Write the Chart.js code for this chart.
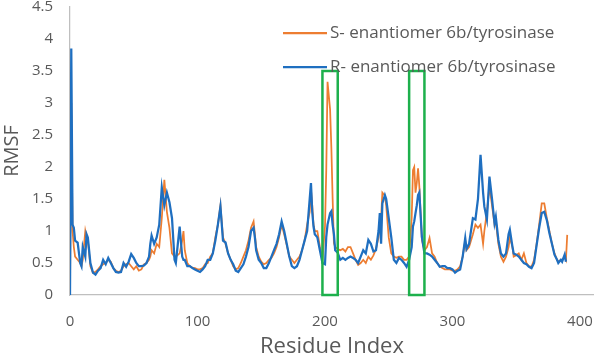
<!DOCTYPE html>
<html>
<head>
<meta charset="utf-8">
<script src="https://cdn.jsdelivr.net/npm/chart.js@4.4.1/dist/chart.umd.min.js"></script>
<style>
  html, body { margin: 0; padding: 0; background: #ffffff; }
  #wrap { width: 594px; height: 360px; position: relative; }
</style>
</head>
<body>
<div id="wrap"><canvas id="c" width="594" height="360"></canvas></div>
<script>
const seriesNames = ["S- enantiomer 6b/tyrosinase", "R- enantiomer 6b/tyrosinase"];
const xTicks = [0, 100, 200, 300, 400];
const yTicks = [0, 0.5, 1, 1.5, 2, 2.5, 3, 3.5, 4, 4.5];
const highlightRanges = [[198, 210], [266, 278]];
const highlightTop = 3.5;

const residues = [
  0,1,2,3,4,6,8,9,10,12,
  13,14,16,18,20,22,24,26,28,30,
  32,34,36,38,40,42,44,46,48,50,
  52,54,56,58,60,62,63,64,66,68,
  70,72,74,76,78,80,82,83,86,88,
  89,90,92,94,96,98,100,102,104,106,
  108,110,112,114,116,118,120,122,124,126,
  128,130,132,134,136,138,140,142,144,145,
  146,148,150,152,154,156,158,160,162,164,
  166,168,170,172,174,176,178,180,182,184,
  186,188,189,190,191,192,194,196,198,200,
  201,202,204,205,206,207,208,210,212,214,
  216,218,220,222,224,226,228,230,232,234,
  236,238,240,242,243,244,245,247,248,250,
  252,254,256,258,260,262,264,266,268,269,
  270,271,272,273,274,276,278,280,282,284,
  286,288,290,292,294,296,298,300,302,304,
  306,308,310,311,313,316,318,320,322,324,
  325,327,329,331,333,334,336,338,340,342,
  344,345,347,348,350,352,354,356,358,360,
  362,364,366,368,370,372,374,376,378,380,
  382,383,385,386,388,389,390
];

const rValues = [
  0,3.85,1.1,1.05,0.85,0.82,0.5,0.45,0.75,0.6,
  0.95,0.9,0.5,0.35,0.32,0.38,0.42,0.55,0.48,0.58,
  0.5,0.42,0.36,0.35,0.36,0.5,0.44,0.52,0.64,0.58,
  0.5,0.45,0.45,0.46,0.5,0.6,0.8,0.93,0.8,0.9,
  1.1,1.68,1.4,1.6,1.45,1.2,0.55,0.5,1.07,0.6,
  0.55,0.55,0.45,0.45,0.42,0.4,0.38,0.36,0.4,0.45,
  0.55,0.55,0.65,0.85,1.1,1.38,0.85,0.82,0.65,0.55,
  0.48,0.38,0.36,0.42,0.48,0.6,0.75,1.0,1.05,0.9,
  0.7,0.55,0.5,0.42,0.42,0.5,0.6,0.7,0.8,0.95,
  1.15,1.0,0.8,0.6,0.45,0.42,0.45,0.55,0.7,0.85,
  1.0,1.5,1.75,1.3,1.07,0.95,0.9,0.7,0.5,0.48,
  0.91,1.1,1.28,1.31,1.1,0.95,0.7,0.66,0.55,0.58,
  0.55,0.58,0.6,0.58,0.55,0.5,0.6,0.7,0.65,0.86,
  0.8,0.68,0.7,1.0,1.28,0.8,1.43,1.56,1.5,1.2,
  0.9,0.55,0.5,0.58,0.55,0.5,0.44,0.55,0.75,1.07,
  1.15,1.28,1.4,1.56,1.6,0.91,0.65,0.65,0.63,0.6,
  0.55,0.5,0.44,0.45,0.45,0.42,0.42,0.4,0.35,0.38,
  0.4,0.6,0.89,0.72,0.8,1.2,1.18,1.5,2.19,1.6,
  1.38,1.18,1.85,1.5,1.12,1.22,0.86,0.65,0.6,0.65,
  0.95,1.02,0.76,0.65,0.63,0.6,0.55,0.5,0.48,0.44,
  0.42,0.5,0.78,1.05,1.28,1.3,1.17,0.97,0.8,0.63,
  0.55,0.5,0.55,0.52,0.63,0.52,null
];

const sValues = [
  0,3.0,1.0,0.75,0.6,0.55,0.5,0.45,0.55,1.0,
  0.9,0.85,0.45,0.35,0.36,0.4,0.45,0.48,0.5,0.55,
  0.52,0.42,0.38,0.36,0.38,0.45,0.48,0.5,0.45,0.4,
  0.45,0.38,0.4,0.48,0.5,0.55,0.6,0.7,0.65,0.8,
  0.75,1.2,1.8,1.3,1.05,0.65,0.6,0.6,0.65,0.85,
  1.0,0.7,0.5,0.45,0.43,0.42,0.4,0.4,0.42,0.48,
  0.5,0.6,0.65,0.9,1.1,1.4,0.9,0.8,0.65,0.55,
  0.45,0.4,0.42,0.5,0.6,0.7,0.85,1.05,1.15,0.95,
  0.75,0.6,0.52,0.48,0.5,0.55,0.58,0.65,0.75,0.9,
  1.1,0.95,0.78,0.6,0.55,0.5,0.55,0.6,0.7,0.85,
  1.1,1.3,1.65,1.4,1.1,1.0,1.0,0.75,0.55,1.07,
  1.95,3.33,2.9,2.3,1.5,0.81,0.75,0.72,0.7,0.72,
  0.68,0.75,0.75,0.65,0.55,0.47,0.5,0.55,0.5,0.6,
  0.55,0.62,0.72,0.9,1.1,1.2,1.6,1.55,1.4,0.9,
  0.65,0.6,0.58,0.6,0.6,0.55,0.55,0.6,1.2,1.95,
  2.0,1.6,1.75,1.98,1.7,0.86,0.7,0.75,0.89,0.65,
  0.6,0.5,0.45,0.42,0.4,0.4,0.4,0.38,0.38,0.4,
  0.45,0.6,0.85,0.7,0.75,0.95,1.1,1.05,1.1,0.8,
  1.0,1.3,1.7,1.4,1.1,1.15,0.8,0.6,0.52,0.6,
  0.75,0.9,0.75,0.6,0.62,0.65,0.55,0.65,0.5,0.45,
  0.44,0.55,0.8,1.1,1.43,1.43,1.2,1.0,0.8,0.65,
  0.55,0.52,0.55,0.55,0.6,0.55,0.94
];

const ORANGE = '#ED7D31';
const BLUE = '#1F6FC0';
const GREEN = '#1DB04C';
const TEXT = '#595959';
const FONT = "'Open Sans', 'DejaVu Sans', sans-serif";

function toPoints(vals) {
  return residues.map((x, i) => ({ x: x, y: vals[i] }));
}

const highlightPlugin = {
  id: 'highlightBoxes',
  afterDatasetsDraw(chart) {
    const xs = chart.scales.x, ys = chart.scales.y;
    const ctx = chart.ctx;
    ctx.save();
    ctx.strokeStyle = GREEN;
    ctx.lineWidth = 2.5;
    highlightRanges.forEach(r => {
      const x0 = xs.getPixelForValue(r[0]);
      const x1 = xs.getPixelForValue(r[1]);
      const y0 = ys.getPixelForValue(highlightTop);
      const y1 = ys.getPixelForValue(0);
      ctx.strokeRect(x0, y0, x1 - x0, y1 - y0);
    });
    ctx.restore();
  }
};

const legendPlugin = {
  id: 'customLegend',
  afterDraw(chart) {
    const ctx = chart.ctx;
    ctx.save();
    ctx.font = "17px " + FONT;
    ctx.textBaseline = 'middle';
    ctx.textAlign = 'left';
    const rows = [33, 67];
    chart.data.datasets.forEach((ds, i) => {
      const y = rows[i];
      ctx.strokeStyle = ds.borderColor;
      ctx.lineWidth = 2.25;
      ctx.beginPath();
      ctx.moveTo(283, y);
      ctx.lineTo(327, y);
      ctx.stroke();
      ctx.fillStyle = TEXT;
      ctx.fillText(ds.label, 330, y);
    });
    ctx.restore();
  }
};

new Chart(document.getElementById('c'), {
  type: 'line',
  data: {
    datasets: [
      {
        label: seriesNames[0],
        data: toPoints(sValues),
        borderColor: ORANGE,
        backgroundColor: ORANGE,
        borderWidth: 1.75,
        pointRadius: 0,
        tension: 0,
        order: 1
      },
      {
        label: seriesNames[1],
        data: toPoints(rValues),
        borderColor: BLUE,
        backgroundColor: BLUE,
        borderWidth: 2.25,
        pointRadius: 0,
        tension: 0,
        order: 0
      }
    ]
  },
  options: {
    responsive: false,
    animation: false,
    devicePixelRatio: 1,
    layout: { padding: { top: 7, right: 0, left: 0, bottom: 0 } },
    plugins: {
      legend: { display: false },
      tooltip: { enabled: false }
    },
    scales: {
      x: {
        type: 'linear',
        min: 0,
        max: 411,
        afterBuildTicks(scale) { scale.ticks = xTicks.map(v => ({ value: v })); },
        afterFit(scale) { scale.height = 65; scale.paddingLeft = 0; scale.paddingRight = 0; },
        grid: { display: false },
        border: { display: true, color: '#BFBFBF', width: 1.25 },
        ticks: { color: TEXT, font: { family: FONT, size: 15 }, padding: 10, maxRotation: 0 },
        title: { display: true, text: 'Residue Index', color: TEXT, font: { family: FONT, size: 22 }, padding: { top: 0, bottom: 0 } }
      },
      y: {
        min: 0,
        max: 4.5,
        afterBuildTicks(scale) { scale.ticks = yTicks.map(v => ({ value: v })); },
        afterFit(scale) { scale.width = 70; scale.paddingTop = 0; scale.paddingBottom = 0; },
        grid: { display: false },
        border: { display: true, color: '#BFBFBF', width: 1.25 },
        ticks: { color: TEXT, font: { family: FONT, size: 15 }, padding: 9, callback: v => String(v) },
        title: { display: true, text: 'RMSF', color: TEXT, font: { family: FONT, size: 20 }, padding: { top: 0, bottom: 0 } }
      }
    }
  },
  plugins: [highlightPlugin, legendPlugin]
});
</script>
</body>
</html>
